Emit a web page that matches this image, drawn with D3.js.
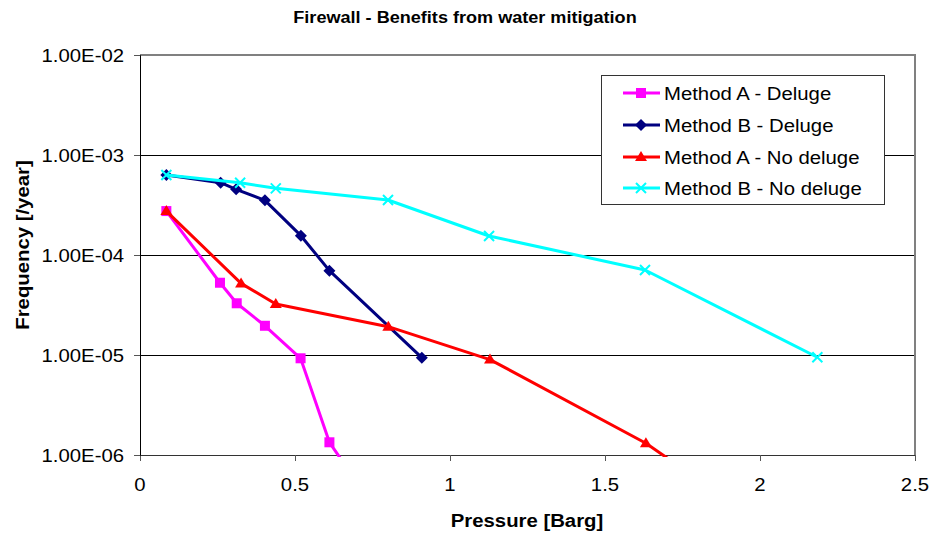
<!DOCTYPE html>
<html><head><meta charset="utf-8">
<script src="https://cdn.jsdelivr.net/npm/d3@7"></script>
<style>body{margin:0;background:#fff}svg{display:block;font-family:Arial,"Liberation Sans",sans-serif}</style>
</head><body>
<svg id="c" width="930" height="534"></svg>
<script>
const seriesNames = ["Method A - Deluge","Method B - Deluge","Method A - No deluge","Method B - No deluge"];
const aDelugeX = [0.085,0.258,0.312,0.403,0.518,0.611,0.86];
const aDelugeY = [2.75e-4,5.28e-5,3.29e-5,1.96e-5,9.27e-6,1.34e-6,1e-7];
const bDelugeX = [0.085,0.26,0.31,0.403,0.519,0.611,0.909];
const bDelugeY = [6.3e-4,5.28e-4,4.54e-4,3.52e-4,1.56e-4,6.97e-5,9.4e-6];
const aNoX = [0.085,0.326,0.438,0.801,1.129,1.632,2.19];
const aNoY = [2.75e-4,5.2e-5,3.24e-5,1.92e-5,9.0e-6,1.31e-6,8.3e-8];
const bNoX = [0.085,0.323,0.438,0.8,1.126,1.629,2.185];
const bNoY = [6.3e-4,5.28e-4,4.64e-4,3.55e-4,1.55e-4,7.08e-5,9.5e-6];
const xTicks = [0,0.5,1,1.5,2,2.5];
const yTicks = [1e-6,1e-5,1e-4,1e-3,1e-2];
const yTickLabels = ["1.00E-06","1.00E-05","1.00E-04","1.00E-03","1.00E-02"];
const colors = ["#FF00FF","#000080","#FF0000","#00FFFF"];
const markers = ["square","diamond","triangle","x"];

const svg = d3.select("#c");
const L=140,R=915,T=55,B=455, SX=1.13;
const x = d3.scaleLinear().domain([0,2.5]).range([L,R]);
const y = d3.scaleLog().domain([1e-6,1e-2]).range([B,T]);

function stext(g, tx, ty, str, size, weight, anchor, rot){
  const t = g.append("text")
    .attr("transform", `translate(${tx},${ty})` + (rot?` rotate(${rot})`:"") + ` scale(${SX},1)`)
    .attr("font-size", size).attr("font-weight", weight||"normal")
    .attr("text-anchor", anchor||"start").attr("fill","#000").text(str);
  return t;
}

// gridlines
svg.append("g").selectAll("line").data(yTicks.slice(1,4)).join("line")
  .attr("x1",L).attr("x2",R).attr("y1",d=>y(d)).attr("y2",d=>y(d))
  .attr("stroke","#000").attr("stroke-width",1).attr("shape-rendering","crispEdges");
// plot border top/right
svg.append("path").attr("d",`M${L},${T}H${R}V${B}`).attr("fill","none")
  .attr("stroke","#808080").attr("stroke-width",1.5).attr("shape-rendering","crispEdges");

// axes
const xAxis = d3.axisBottom(x).tickValues(xTicks).tickSize(6).tickFormat("");
const gx = svg.append("g").attr("transform",`translate(0,${B})`).call(xAxis);
gx.select(".domain").attr("stroke","#333");
gx.selectAll(".tick line").attr("stroke","#555");
const yAxis = d3.axisLeft(y).tickValues(yTicks).tickSize(6).tickFormat("");
const gy = svg.append("g").attr("transform",`translate(${L},0)`).call(yAxis);
gy.select(".domain").attr("stroke","#000");
gy.selectAll(".tick line").attr("stroke","#555");

const lab = svg.append("g");
xTicks.forEach(v=>stext(lab, x(v), 491, String(v), 18, "normal", "middle"));
yTicks.forEach((v,i)=>stext(lab, 124, y(v)+6.5, yTickLabels[i], 18, "normal", "end"));

stext(lab, 465, 23, "Firewall - Benefits from water mitigation", 16, "bold", "middle");
stext(lab, 527, 527, "Pressure [Barg]", 18, "bold", "middle");
stext(lab, 29, 245, "Frequency [/year]", 18, "bold", "middle", -90);

// clip
svg.append("clipPath").attr("id","clip").append("rect").attr("x",L).attr("y",T-10).attr("width",R-L+10).attr("height",B-T+12);

const data = [
  aDelugeX.map((v,i)=>[v,aDelugeY[i]]),
  bDelugeX.map((v,i)=>[v,bDelugeY[i]]),
  aNoX.map((v,i)=>[v,aNoY[i]]),
  bNoX.map((v,i)=>[v,bNoY[i]])
];
const line = d3.line().x(d=>x(d[0])).y(d=>y(d[1]));

function drawMarker(g, type, cx, cy, col){
  if(type==="square") g.append("rect").attr("x",cx-5).attr("y",cy-5).attr("width",10).attr("height",10).attr("fill",col);
  else if(type==="diamond") g.append("path").attr("d",`M${cx},${cy-6}L${cx+6},${cy}L${cx},${cy+6}L${cx-6},${cy}Z`).attr("fill",col);
  else if(type==="triangle") g.append("path").attr("d",`M${cx},${cy-6}L${cx+6},${cy+4}L${cx-6},${cy+4}Z`).attr("fill",col);
  else g.append("path").attr("d",`M${cx-5},${cy-5}L${cx+5},${cy+5}M${cx+5},${cy-5}L${cx-5},${cy+5}`).attr("stroke",col).attr("stroke-width",2);
}

const plot = svg.append("g").attr("clip-path","url(#clip)");
data.forEach((pts,i)=>{
  const g = plot.append("g");
  g.append("path").datum(pts).attr("d",line).attr("fill","none").attr("stroke",colors[i]).attr("stroke-width",3).attr("stroke-linejoin","round");
  pts.forEach(p=>{ if(p[1]>=1e-6) drawMarker(g, markers[i], x(p[0]), y(p[1]), colors[i]); });
});

// legend
const lg = svg.append("g");
lg.append("rect").attr("x",601.5).attr("y",75.5).attr("width",283).attr("height",129).attr("fill","#fff").attr("stroke","#333").attr("stroke-width",1);
const rowY = [93,125,157,188];
seriesNames.forEach((n,i)=>{
  lg.append("line").attr("x1",623).attr("x2",660).attr("y1",rowY[i]).attr("y2",rowY[i]).attr("stroke",colors[i]).attr("stroke-width",3);
  drawMarker(lg, markers[i], 641, rowY[i], colors[i]);
  stext(lg, 664, rowY[i]+6.5, n, 18, "normal", "start");
});
</script>
</body></html>
